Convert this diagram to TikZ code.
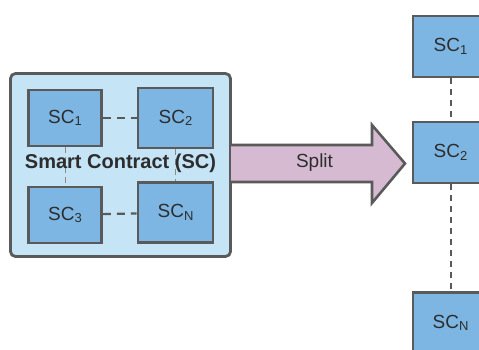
\documentclass[tikz,border=0pt]{standalone}
\usepackage{fontspec}
\setmainfont{Liberation Sans}
\definecolor{edgegray}{RGB}{90,90,90}
\definecolor{boxblue}{RGB}{125,182,226}
\definecolor{panelblue}{RGB}{197,228,246}
\definecolor{arrowpink}{RGB}{214,186,210}
\definecolor{textgray}{RGB}{45,45,45}
\tikzset{
  scbox/.style={draw=edgegray, line width=2.6pt, fill=boxblue, minimum width=73pt,
    minimum height=56pt, inner sep=0pt, font=\fontsize{19}{22}\selectfont, text=textgray},
  link/.style={draw=edgegray, line width=2.2pt, dash pattern=on 8pt off 6pt},
  vlink/.style={draw=edgegray, line width=2pt, dash pattern=on 6pt off 5pt},
  thinlink/.style={draw=edgegray!70, line width=1pt, dash pattern=on 6pt off 4pt},
  label/.style={text=textgray, font=\fontsize{19}{22}\selectfont},
}
\newcommand{\scsub}[1]{SC\raisebox{-0.25ex}{\fontsize{13}{15}\selectfont #1}}
\begin{document}
\begin{tikzpicture}[x=1pt,y=-1pt]
\useasboundingbox (0,0) rectangle (479,349);
% left panel holding the contract
\node[draw=edgegray, line width=2.8pt, fill=panelblue, rounded corners=5pt,
  minimum width=220pt, minimum height=183pt, inner sep=0pt] (panel) at (120.5,165) {};
\node[scbox] (a1) at (65,118) {\scsub{1}};
\node[scbox, minimum width=75pt, minimum height=60pt] (a2) at (175.5,118) {\scsub{2}};
\node[scbox] (a3) at (65,215) {\scsub{3}};
\node[scbox, minimum width=75pt, minimum height=60pt] (aN) at (175.5,212.5) {\scsub{N}};
\draw[thinlink] (a1) -- (a3);
\draw[thinlink] (a2) -- (aN);
\draw[link] (a1) -- (a2);
\draw[link] (a3) -- (aN);
\node[font=\fontsize{20}{24}\selectfont\bfseries, text=textgray] (title) at (120.5,163) {Smart Contract (SC)};
% split arrow
\draw[draw=edgegray, line width=2.6pt, fill=arrowpink, line join=miter]
  (231,145) -- (372,145) -- (372,125) -- (405,163.5) -- (372,203) -- (372,182) -- (231,182);
\node[label] (split) at (314.5,163) {Split};
% right column of split contracts
\node[scbox, minimum width=75pt, minimum height=61pt] (b1) at (450.5,46.5) {\scsub{1}};
\node[scbox, minimum width=75pt, minimum height=61pt] (b2) at (450.5,152.5) {\scsub{2}};
\node[scbox, minimum width=75pt, minimum height=61pt] (bN) at (450.5,323) {\scsub{N}};
\draw[vlink] (b1) -- (b2);
\draw[vlink] (b2) -- (bN);
\end{tikzpicture}
\end{document}
